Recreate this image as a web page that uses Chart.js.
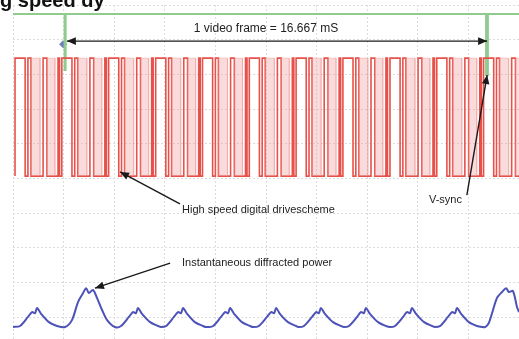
<!DOCTYPE html>
<html><head><meta charset="utf-8">
<script src="https://cdn.jsdelivr.net/npm/chart.js@4/dist/chart.umd.min.js"></script>
<style>html,body{margin:0;padding:0;background:#fff;overflow:hidden}canvas{display:block}</style>
</head><body><canvas id="c" width="519" height="339"></canvas>
<script>
// ---- axes (time in ms, level in screen divisions) ----
const timeTicks = [0, 2, 4, 6, 8, 10, 12, 14, 16, 18, 20];
const levelTicks = [1, 2, 3, 4, 5, 6, 7, 8, 9, 10];

// ---- V-sync trace (green) ----
const vsyncTime  = [0, 2.04, 2.04, 2.08, 2.08, 18.70, 18.70, 18.77, 18.77, 20];
const vsyncLevel = [9.74, 9.74, 8.13, 8.13, 9.74, 9.74, 7.98, 7.98, 9.74, 9.74];

// ---- High speed digital drive scheme (red) ----
const driveHigh = 8.47;
const driveLow = 5.07;
const subframeStart = [0.08, 1.93, 3.78, 5.64, 7.49, 9.34, 11.19, 13.04, 14.90, 16.75, 18.60];
const pulseOn  = [0.00, 0.51, 1.11, 1.70];   // ms after subframe start
const pulseOff = [0.40, 0.63, 1.26, 1.76];
const burstOn  = [0.63, 1.26];               // fast switching bursts
const burstOff = [0.99, 1.58];

// ---- Instantaneous diffracted power (blue) ----
const powerTime = [0, 0.28, 0.59, 0.75, 0.87, 0.95, 1.11, 1.42, 1.74, 2.06,
  2.33, 2.57, 2.77, 2.89, 3.00, 3.16, 3.32, 3.52, 3.72, 4.03,
  4.27, 4.58, 4.74, 4.86, 4.94, 5.10, 5.42, 5.73, 5.85,
  6.05, 6.36, 6.52, 6.64, 6.72, 6.88, 7.19, 7.51, 7.63,
  7.91, 8.22, 8.38, 8.50, 8.58, 8.74, 9.05, 9.37, 9.49,
  9.72, 10.04, 10.20, 10.32, 10.40, 10.55, 10.87, 11.19, 11.30,
  11.50, 11.82, 11.98, 12.09, 12.17, 12.33, 12.65, 12.96, 13.08,
  13.28, 13.60, 13.75, 13.87, 13.95, 14.11, 14.43, 14.74, 14.90,
  15.10, 15.42, 15.57, 15.69, 15.77, 15.93, 16.25, 16.56, 16.68,
  16.88, 17.19, 17.35, 17.47, 17.55, 17.71, 18.02, 18.34, 18.54,
  18.66, 18.81, 19.13, 19.33, 19.49, 19.60, 19.76, 19.92, 20.0];
const powerLevel = [0.72, 0.75, 1.01, 1.15, 1.12, 1.27, 1.10, 0.86, 0.75, 0.72,
  0.92, 1.44, 1.70, 1.84, 1.70, 1.79, 1.56, 1.21, 0.92, 0.72,
  0.75, 1.01, 1.15, 1.12, 1.27, 1.10, 0.86, 0.75, 0.72,
  0.75, 1.01, 1.15, 1.12, 1.27, 1.10, 0.86, 0.75, 0.72,
  0.75, 1.01, 1.15, 1.12, 1.27, 1.10, 0.86, 0.75, 0.72,
  0.75, 1.01, 1.15, 1.12, 1.27, 1.10, 0.86, 0.75, 0.72,
  0.75, 1.01, 1.15, 1.12, 1.27, 1.10, 0.86, 0.75, 0.72,
  0.75, 1.01, 1.15, 1.12, 1.27, 1.10, 0.86, 0.75, 0.72,
  0.75, 1.01, 1.15, 1.12, 1.27, 1.10, 0.86, 0.75, 0.72,
  0.75, 1.01, 1.15, 1.12, 1.27, 1.10, 0.86, 0.75, 0.72,
  0.72, 0.84, 1.56, 1.73, 1.84, 1.73, 1.76, 1.30, 1.15];

// ---- annotation texts ----
const labelTexts = ['1 video frame = 16.667 mS', 'High speed digital drivescheme', 'V-sync', 'Instantaneous diffracted power', 'g speed dy'];

// build point tables from the arrays
const vsyncPts = vsyncTime.map((t, i) => ({x: t, y: vsyncLevel[i]}));
const drivePts = [{x: subframeStart[0], y: driveLow}];
const burstPts = [];
subframeStart.forEach(s => {
  pulseOn.forEach((on, i) => {
    drivePts.push({x: s + on, y: driveLow}, {x: s + on, y: driveHigh},
                  {x: s + pulseOff[i], y: driveHigh}, {x: s + pulseOff[i], y: driveLow});
  });
  burstOn.forEach((on, i) => {
    burstPts.push({x: s + on, y: driveLow}, {x: s + on, y: driveHigh},
                  {x: s + burstOff[i], y: driveHigh}, {x: s + burstOff[i], y: driveLow},
                  {x: s + burstOff[i] + 0.001, y: null});
  });
});
drivePts.push({x: 20.5, y: driveLow});
const powerPts = powerTime.map((t, i) => ({x: t, y: powerLevel[i]}));

// annotation layout (data coordinates)
const notes = [
  {text: labelTexts[0], x: 10.0, y: 9.31, align: 'center', base: 'middle', font: '12px "Liberation Sans"', color: '#222'},
  {text: labelTexts[1], x: 6.68, y: 4.09, align: 'left', base: 'middle', font: '11px "Liberation Sans"', color: '#222'},
  {text: labelTexts[2], x: 16.44, y: 4.38, align: 'left', base: 'middle', font: '11px "Liberation Sans"', color: '#222'},
  {text: labelTexts[3], x: 6.68, y: 2.56, align: 'left', base: 'middle', font: '11px "Liberation Sans"', color: '#222'},
  {text: labelTexts[4], x: -0.51, y: 9.93, align: 'left', base: 'alphabetic', font: 'bold 20px "Liberation Sans"', color: '#111'}
];
const arrows = [
  {x1: 2.13, y1: 8.96, x2: 18.74, y2: 8.96, both: true},
  {x1: 6.60, y1: 4.27, x2: 4.23, y2: 5.19},
  {x1: 17.94, y1: 4.52, x2: 18.74, y2: 7.98},
  {x1: 6.21, y1: 2.56, x2: 3.24, y2: 1.84}
];

function head(ctx, xa, ya, xb, yb) {
  const a = Math.atan2(yb - ya, xb - xa), L = 9, W = 3.8;
  ctx.beginPath();
  ctx.moveTo(xb, yb);
  ctx.lineTo(xb - L * Math.cos(a) + W * Math.sin(a), yb - L * Math.sin(a) - W * Math.cos(a));
  ctx.lineTo(xb - L * Math.cos(a) - W * Math.sin(a), yb - L * Math.sin(a) + W * Math.cos(a));
  ctx.closePath();
  ctx.fill();
}

const annotate = {
  id: 'annotate',
  afterDatasetsDraw(chart) {
    const {ctx, scales: {x, y}} = chart;
    ctx.save();
    ctx.strokeStyle = '#1a1a1a';
    ctx.fillStyle = '#1a1a1a';
    ctx.lineWidth = 1.4;
    arrows.forEach(a => {
      const x1 = x.getPixelForValue(a.x1), y1 = y.getPixelForValue(a.y1);
      const x2 = x.getPixelForValue(a.x2), y2 = y.getPixelForValue(a.y2);
      ctx.beginPath(); ctx.moveTo(x1, y1); ctx.lineTo(x2, y2); ctx.stroke();
      head(ctx, x1, y1, x2, y2);
      if (a.both) head(ctx, x2, y2, x1, y1);
    });
    notes.forEach(n => {
      ctx.font = n.font; ctx.fillStyle = n.color; ctx.textAlign = n.align; ctx.textBaseline = n.base;
      ctx.fillText(n.text, x.getPixelForValue(n.x), y.getPixelForValue(n.y));
    });
    ctx.restore();
  }
};

new Chart(document.getElementById('c'), {
  type: 'line',
  data: {
    datasets: [
      {data: burstPts, borderColor: 'rgba(240,140,140,0.35)', backgroundColor: 'rgba(243,160,160,0.38)',
       borderWidth: 1, fill: {value: driveLow}, spanGaps: false, pointRadius: 0, tension: 0},
      {data: drivePts, borderColor: '#e8514a', borderWidth: 1.6, fill: false, pointRadius: 0, tension: 0},
      {data: vsyncPts, borderColor: '#8fca8f', borderWidth: 2, fill: false, pointRadius: 0, tension: 0},
      {data: powerPts, borderColor: '#4d52b8', borderWidth: 2, fill: false, pointRadius: 0, tension: 0.3},
      {data: [{x: 1.98, y: 8.87}], pointStyle: 'rectRot', pointRadius: 3.5, backgroundColor: '#6f7fb8',
       borderColor: '#6f7fb8', showLine: false}
    ]
  },
  options: {
    responsive: false, animation: false, events: [],
    layout: {autoPadding: false, padding: {top: 5, left: 13, right: 0, bottom: 0}},
    plugins: {legend: {display: false}, tooltip: {enabled: false}},
    scales: {
      x: {type: 'linear', min: 0, max: 20,
          afterBuildTicks: s => { s.ticks = timeTicks.map(v => ({value: v})); },
          afterFit: s => { s.height = 0; },
          ticks: {display: false}, grid: {color: '#dcdcdc', lineWidth: 1, drawTicks: false},
          border: {display: false, dash: [2, 2]}},
      y: {type: 'linear', min: 0.375, max: 10,
          afterBuildTicks: s => { s.ticks = levelTicks.map(v => ({value: v})); },
          afterFit: s => { s.width = 0; },
          ticks: {display: false}, grid: {color: '#dcdcdc', lineWidth: 1, drawTicks: false},
          border: {display: false, dash: [2, 2]}}
    }
  },
  plugins: [annotate]
});
</script>
</body></html>
